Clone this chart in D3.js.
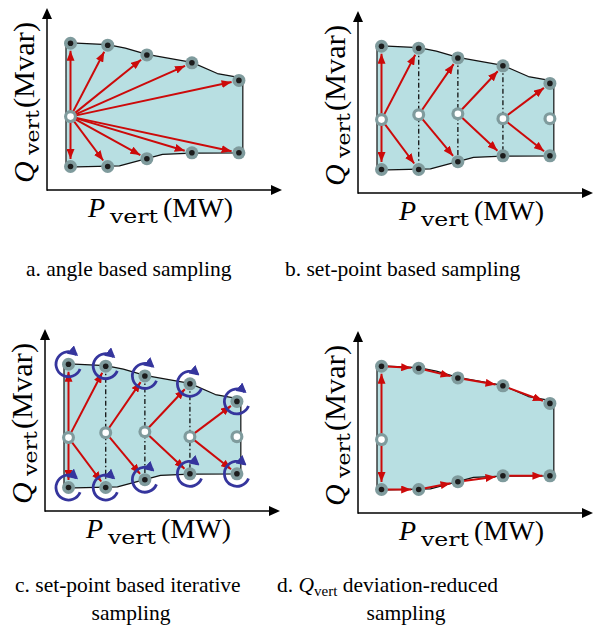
<!DOCTYPE html>
<html>
<head>
<meta charset="utf-8">
<script src="https://cdn.jsdelivr.net/npm/d3@7"></script>
<style>
  html, body { margin: 0; padding: 0; background: #fff; }
  svg { display: block; }
  text { font-family: "Liberation Serif", "Times New Roman", serif; fill: #000; }
  text.sub { font-family: "DejaVu Serif", "Liberation Serif", serif; }
</style>
</head>
<body>
<svg id="fig" width="596" height="637"></svg>
<script>
// P_vert set-points (MW) of the sampled columns
const pSetpoints = [12, 31, 51, 74, 98];
// Q_vert limits (Mvar) found at each set-point
const qUpper = [75, 74, 69, 65, 56];
const qLower = [12, 12, 16, 19, 19];
// Q_vert (Mvar) where each column search starts
const qStart = [37.5, 40, 40.5, 38, 38];
// outline of the feasible P-Q region (upper edge left->right, lower edge right->left)
const outlineUpperP = [9.7, 31, 40, 51, 74, 87, 100];
const outlineUpperQ = [75.3, 74.3, 72.5, 69.3, 65.2, 59.5, 57.2];
const outlineLowerP = [100, 74, 59, 37, 9.7];
const outlineLowerQ = [18.9, 18.8, 18.2, 12.3, 11.7];
// sub-figure captions
const captionA = "a. angle based sampling";
const captionB = "b. set-point based sampling";
const captionC = ["c. set-point based iterative", "sampling"];
const captionD = ["deviation-reduced", "sampling"];

const RED = "#cc0a0a";
const BLUE = "#35359d";
const REGION = "#b8dfe2";
const NODE = "#7f9b9d";

const svg = d3.select("#fig");
const defs = svg.append("defs");

function arrowHead(id, color, len, wid, ref) {
  defs.append("marker")
    .attr("id", id)
    .attr("markerUnits", "userSpaceOnUse")
    .attr("markerWidth", len).attr("markerHeight", wid)
    .attr("refX", ref).attr("refY", wid / 2)
    .attr("orient", "auto")
    .append("path")
    .attr("d", `M0,0L${len},${wid / 2}L0,${wid}Z`)
    .attr("fill", color);
}
arrowHead("redHead", RED, 10, 8, 10);
arrowHead("blueHead", BLUE, 10, 11, 8);
arrowHead("axisHead", "#000", 11, 10, 6);

const panels = [
  { key: "a", ox: 47, oy: 190 },
  { key: "b", ox: 358, oy: 193 },
  { key: "c", ox: 45, oy: 511 },
  { key: "d", ox: 358, oy: 513 }
];

const cols = d3.range(pSetpoints.length);

panels.forEach(pn => {
  const x = d3.scaleLinear().domain([0, 120]).range([pn.ox, pn.ox + 235]);
  const y = d3.scaleLinear().domain([0, 93]).range([pn.oy, pn.oy - 182]);
  const g = svg.append("g").attr("class", "panel-" + pn.key);

  const top = cols.map(i => ({ p: pSetpoints[i], q: qUpper[i] }));
  const bot = cols.map(i => ({ p: pSetpoints[i], q: qLower[i] }));
  const mid = cols.map(i => ({ p: pSetpoints[i], q: qStart[i] }));

  // feasible region
  const outline = outlineUpperP.map((p, i) => ({ p, q: outlineUpperQ[i] }))
    .concat(outlineLowerP.map((p, i) => ({ p, q: outlineLowerQ[i] })));
  g.append("path")
    .attr("d", d3.line().x(d => x(d.p)).y(d => y(d.q)).curve(d3.curveLinearClosed)(outline))
    .attr("fill", REGION)
    .attr("stroke", "#111")
    .attr("stroke-width", 1.2)
    .attr("stroke-linejoin", "round");

  // axes
  const [x0, x1] = x.range();
  const [y0, y1] = y.range();
  g.append("line").attr("x1", x0).attr("y1", y0).attr("x2", x1 - 5).attr("y2", y0)
    .attr("stroke", "#000").attr("stroke-width", 1.5).attr("marker-end", "url(#axisHead)");
  g.append("line").attr("x1", x0).attr("y1", y0 + 0.75).attr("x2", x0).attr("y2", y1 + 5)
    .attr("stroke", "#000").attr("stroke-width", 1.5).attr("marker-end", "url(#axisHead)");

  // x label: P_vert (MW)
  const xl = g.append("g");
  xl.append("text").attr("x", x0 + 41).attr("y", y0 + 27).attr("font-size", 28)
    .attr("font-style", "italic").text("P");
  xl.append("text").attr("class", "sub").attr("x", x0 + 63).attr("y", y0 + 33).attr("font-size", 18)
    .attr("textLength", 48).attr("lengthAdjust", "spacingAndGlyphs").text("vert");
  xl.append("text").attr("x", x0 + 116).attr("y", y0 + 27).attr("font-size", 28)
    .attr("textLength", 70).attr("lengthAdjust", "spacingAndGlyphs").text("(MW)");

  // y label: Q_vert (Mvar)
  const yl = g.append("g")
    .attr("transform", `translate(${x0 - 13},${y0 - 7}) rotate(-90)`);
  yl.append("text").attr("x", 0).attr("y", 0).attr("font-size", 30)
    .attr("font-style", "italic").text("Q");
  yl.append("text").attr("class", "sub").attr("x", 28).attr("y", 5).attr("font-size", 18)
    .attr("textLength", 45).attr("lengthAdjust", "spacingAndGlyphs").text("vert");
  yl.append("text").attr("x", 75).attr("y", 0).attr("font-size", 30)
    .attr("textLength", 86).attr("lengthAdjust", "spacingAndGlyphs").text("(Mvar)");

  // set-point columns (dash-dot)
  if (pn.key === "b" || pn.key === "c") {
    [1, 2, 3].forEach(i => {
      g.append("line")
        .attr("x1", x(top[i].p)).attr("y1", y(top[i].q))
        .attr("x2", x(bot[i].p)).attr("y2", y(bot[i].q))
        .attr("stroke", "#111").attr("stroke-width", 1.3)
        .attr("stroke-dasharray", "5,2.5,1.5,2.5");
    });
  }

  // search moves
  let moves = [];
  if (pn.key === "a") {
    cols.forEach(i => { moves.push([mid[0], top[i]], [mid[0], bot[i]]); });
  } else if (pn.key === "b" || pn.key === "c") {
    moves.push([mid[0], top[0]], [mid[0], bot[0]]);
    [0, 1, 2, 3].forEach(i => { moves.push([mid[i], top[i + 1]], [mid[i], bot[i + 1]]); });
  } else {
    moves.push([mid[0], top[0]], [mid[0], bot[0]]);
    [0, 1, 2, 3].forEach(i => { moves.push([top[i], top[i + 1]], [bot[i], bot[i + 1]]); });
  }
  moves.forEach(([s, t]) => {
    const sx = x(s.p), sy = y(s.q), tx = x(t.p), ty = y(t.q);
    const L = Math.hypot(tx - sx, ty - sy);
    const gap = 7.5;
    g.append("line")
      .attr("x1", sx).attr("y1", sy)
      .attr("x2", tx - (tx - sx) / L * gap).attr("y2", ty - (ty - sy) / L * gap)
      .attr("stroke", RED).attr("stroke-width", 2)
      .attr("marker-end", "url(#redHead)");
  });

  // sampled vertices
  const hollow = (pn.key === "b" || pn.key === "c") ? mid : [mid[0]];
  const filled = top.concat(bot);
  filled.forEach(d => {
    g.append("circle").attr("cx", x(d.p)).attr("cy", y(d.q)).attr("r", 6.5).attr("fill", NODE);
    g.append("circle").attr("cx", x(d.p)).attr("cy", y(d.q)).attr("r", 2.8).attr("fill", "#1c1c1c");
  });
  hollow.forEach(d => {
    g.append("circle").attr("cx", x(d.p)).attr("cy", y(d.q)).attr("r", 6.5).attr("fill", NODE);
    g.append("circle").attr("cx", x(d.p)).attr("cy", y(d.q)).attr("r", 3.3).attr("fill", "#fff");
  });

  // iterative refinement loops
  if (pn.key === "c") {
    const deg = Math.PI / 180;
    filled.forEach(d => {
      const p = d3.path();
      p.arc(x(d.p), y(d.q), 12.5, 22 * deg, 310 * deg, false);
      g.append("path").attr("d", p.toString())
        .attr("fill", "none").attr("stroke", BLUE).attr("stroke-width", 2.8)
        .attr("marker-end", "url(#blueHead)");
    });
  }
});

// captions
const cap = svg.append("g").attr("font-size", 21.5);
cap.append("text").attr("x", 26).attr("y", 276).text(captionA);
cap.append("text").attr("x", 285).attr("y", 276).text(captionB);
cap.append("text").attr("x", 15).attr("y", 592).text(captionC[0]);
cap.append("text").attr("x", 131).attr("y", 620).attr("text-anchor", "middle").text(captionC[1]);
const dl = cap.append("text").attr("x", 277).attr("y", 592);
dl.append("tspan").text("d. ");
dl.append("tspan").attr("font-style", "italic").text("Q");
dl.append("tspan").attr("font-size", 15).attr("dy", 4).text("vert");
dl.append("tspan").attr("dy", -4).text(" " + captionD[0]);
cap.append("text").attr("x", 406).attr("y", 620).attr("text-anchor", "middle").text(captionD[1]);
</script>
</body>
</html>
